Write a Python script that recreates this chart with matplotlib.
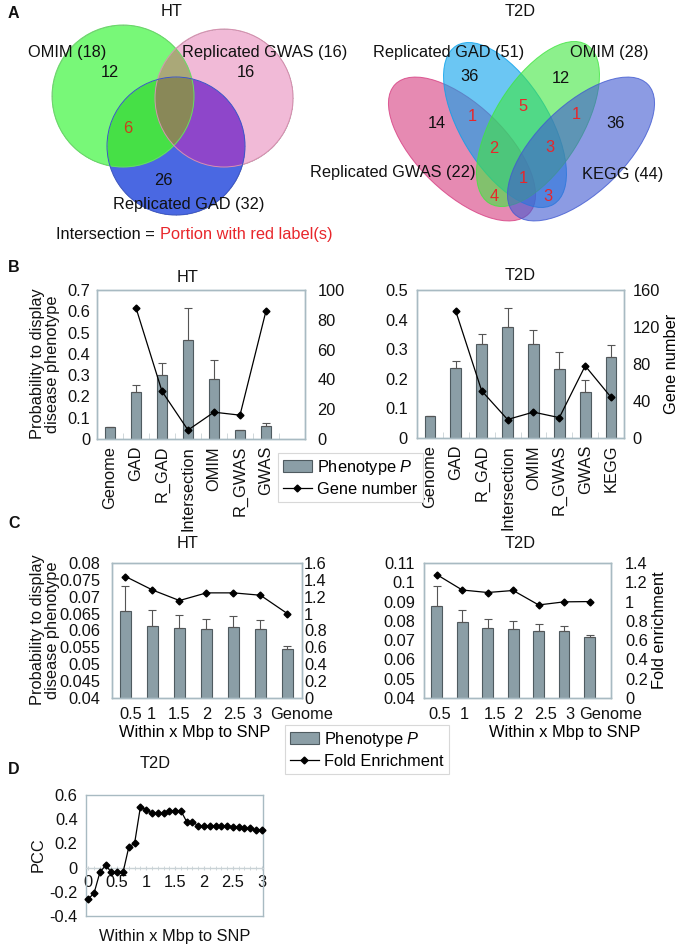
import numpy as np
import matplotlib.pyplot as plt
from matplotlib.patches import Ellipse, Circle, Patch
from matplotlib.lines import Line2D
from matplotlib.colors import to_rgba
from matplotlib.ticker import FuncFormatter, MultipleLocator, FixedLocator

plt.rcParams['font.family'] = ['Liberation Sans', 'DejaVu Sans']
plt.rcParams['font.size'] = 11.8
plt.rcParams['mathtext.fontset'] = 'custom'
plt.rcParams['mathtext.it'] = 'Liberation Sans:italic'
plt.rcParams['mathtext.rm'] = 'Liberation Sans'

# ---- data ----
# panel B
b_ht_cats = ['Genome', 'GAD', 'R_GAD', 'Intersection', 'OMIM', 'R_GWAS', 'GWAS']
b_ht_prob = [0.055, 0.22, 0.302, 0.463, 0.282, 0.042, 0.062]
b_ht_err = [0.0, 0.032, 0.054, 0.152, 0.09, 0.0, 0.014]
b_ht_genes = [np.nan, 88, 32, 6, 18, 16, 86]

b_t2d_cats = ['Genome', 'GAD', 'R_GAD', 'Intersection', 'OMIM', 'R_GWAS', 'GWAS', 'KEGG']
b_t2d_prob = [0.073, 0.236, 0.318, 0.374, 0.316, 0.232, 0.157, 0.275]
b_t2d_err = [0.002, 0.023, 0.035, 0.066, 0.048, 0.059, 0.038, 0.04]
b_t2d_genes = [np.nan, 137, 51, 20, 28, 22, 78, 44]

# panel C
c_cats = ['0.5', '1', '1.5', '2', '2.5', '3', 'Genome']
c_ht_prob = [0.0658, 0.0613, 0.0606, 0.0603, 0.0611, 0.0603, 0.0544]
c_ht_err = [0.0075, 0.0047, 0.0039, 0.003, 0.0032, 0.0027, 0.001]
c_ht_fold = [1.44, 1.28, 1.155, 1.246, 1.246, 1.218, 1.0]
c_t2d_prob = [0.0877, 0.0796, 0.0761, 0.0758, 0.0747, 0.0745, 0.0718]
c_t2d_err = [0.0105, 0.0059, 0.0047, 0.0043, 0.0035, 0.0028, 0.0008]
c_t2d_fold = [1.28, 1.12, 1.094, 1.115, 0.965, 0.997, 1.0]

# panel D
d_dist = [0.0, 0.1, 0.2, 0.3, 0.4, 0.5, 0.6, 0.7, 0.8, 0.9, 1.0,
          1.1, 1.2, 1.3, 1.4, 1.5, 1.6, 1.7, 1.8, 1.9, 2.0,
          2.1, 2.2, 2.3, 2.4, 2.5, 2.6, 2.7, 2.8, 2.9, 3.0]
d_pcc = [-0.26, -0.21, -0.04, 0.02, -0.04, -0.04, -0.04, 0.17, 0.2, 0.5, 0.48,
         0.45, 0.45, 0.45, 0.47, 0.47, 0.47, 0.38, 0.38, 0.345, 0.345,
         0.345, 0.345, 0.345, 0.345, 0.335, 0.335, 0.325, 0.325, 0.31, 0.31]

BAR = '#8b9ea6'
BAR_EDGE = '#4f5b60'
SPINE = '#a8bac2'
TICKC = '#c9d2d6'
TXT = '#111111'
RED = '#e8262b'

W, H = 685, 949
fig = plt.figure(figsize=(W / 100, H / 100), dpi=100)


def box(x0, y0, x1, y1):
    return [x0 / W, 1 - y1 / H, (x1 - x0) / W, (y1 - y0) / H]


fmt = FuncFormatter(lambda v, p: '%g' % round(v, 4))


def style(ax):
    for s in ax.spines.values():
        s.set_color(SPINE)
        s.set_linewidth(1.0)


def bar_panel(rect, cats, prob, err, line, ylim, ystep, y2lim, y2step,
              xlim, rot, lpad, rpad, label_pos=None, marks=True):
    ax = fig.add_axes(rect)
    x = np.arange(len(cats))
    ax.bar(x, prob, width=0.42, color=BAR, edgecolor=BAR_EDGE, lw=0.8, zorder=2)
    ax.errorbar(x, prob, yerr=[np.zeros(len(x)), err], fmt='none', ecolor='#555555',
                elinewidth=0.8, capsize=3, capthick=0.8, zorder=3)
    ax.set_xlim(*xlim)
    ax.set_ylim(*ylim)
    ax.yaxis.set_major_locator(MultipleLocator(ystep))
    ax.yaxis.set_major_formatter(fmt)
    ax.set_xticks(x if label_pos is None else label_pos)
    ax.set_xticklabels(cats, rotation=rot)
    if marks:
        ax.xaxis.set_minor_locator(FixedLocator(np.arange(xlim[0], xlim[1] + 0.01, 1.0)))
    ax.tick_params(axis='x', which='major', length=0, pad=5 if rot else 6.5, colors=TXT)
    ax.tick_params(axis='x', which='minor', length=4, direction='in', color=TICKC)
    ax.tick_params(axis='y', length=0, pad=lpad, colors=TXT)
    style(ax)
    ax2 = ax.twinx()
    ax2.plot(x, line, color='black', lw=0.9, marker='D', ms=3.5, zorder=4)
    ax2.set_ylim(*y2lim)
    ax2.yaxis.set_major_locator(MultipleLocator(y2step))
    ax2.yaxis.set_major_formatter(fmt)
    ax2.tick_params(axis='y', length=0, pad=rpad, colors=TXT)
    style(ax2)
    return ax, ax2


# ---- panel B ----
axb1, axb1r = bar_panel(box(97, 290, 305, 439), b_ht_cats, b_ht_prob, b_ht_err, b_ht_genes,
                        (0, 0.7), 0.1, (0, 100), 20, (-0.5, 7.5), 90, 5, 9)
axb2, axb2r = bar_panel(box(417, 290, 624, 438), b_t2d_cats, b_t2d_prob, b_t2d_err, b_t2d_genes,
                        (0, 0.5), 0.1, (0, 160), 40, (-0.5, 7.5), 90, 6.5, 6)
axb2r.set_ylabel('Gene number', labelpad=3)

# ---- panel C ----
axc1, axc1r = bar_panel(box(112, 563, 302, 698), c_cats, c_ht_prob, c_ht_err, c_ht_fold,
                        (0.04, 0.08), 0.005, (0, 1.6), 0.2, (-0.5, 6.5), 0, 8.5, 1.5,
                        label_pos=[0.2, 0.97, 2.0, 3.0, 4.03, 4.88, 6.54], marks=False)
axc2, axc2r = bar_panel(box(424, 563, 611, 698), c_cats, c_t2d_prob, c_t2d_err, c_t2d_fold,
                        (0.04, 0.11), 0.01, (0, 1.4), 0.2, (-0.5, 6.5), 0, 6.5, 10,
                        label_pos=[0.1, 1.07, 2.27, 3.17, 4.29, 5.23, 6.84], marks=False)
axc1.set_xlabel('Within x Mbp to SNP')
axc2.set_xlabel('Within x Mbp to SNP')
axc1.xaxis.set_label_coords(0.437, -0.2)
axc2.xaxis.set_label_coords(0.75, -0.2)
axc2r.set_ylabel('Fold enrichment', labelpad=3)

# ---- panel D ----
axd = fig.add_axes(box(86, 795, 263, 916))
axd.plot(d_dist, d_pcc, color='black', lw=0.9, marker='D', ms=3.5, clip_on=False, zorder=4)
axd.set_xlim(-0.04, 3.02)
axd.set_ylim(-0.4, 0.6)
axd.yaxis.set_major_locator(MultipleLocator(0.2))
axd.yaxis.set_major_formatter(fmt)
axd.xaxis.set_major_locator(MultipleLocator(0.5))
axd.xaxis.set_minor_locator(MultipleLocator(0.1))
axd.xaxis.set_major_formatter(fmt)
style(axd)
axd.spines['bottom'].set_position(('data', 0))
axd.spines['bottom'].set_color(TICKC)
axd.axhline(-0.4, color=SPINE, lw=1.0, clip_on=False)
axd.tick_params(axis='x', which='both', length=3, direction='inout', color=TICKC, pad=4, colors=TXT)
axd.tick_params(axis='x', which='both', color=TICKC)
axd.tick_params(axis='y', length=0, pad=6, colors=TXT)

# ---- overlay in pixel coordinates ----
ov = fig.add_axes([0, 0, 1, 1])
ov.set_xlim(0, W)
ov.set_ylim(H, 0)
ov.axis('off')

# HT venn (three circles, region colours)
gx = np.arange(45, 305, 0.5)
gy = np.arange(18, 222, 0.5)
X, Y = np.meshgrid(gx, gy)
inG = (X - 123) ** 2 + (Y - 96) ** 2 <= 71 ** 2
inP = (X - 224) ** 2 + (Y - 98) ** 2 <= 69 ** 2
inB = (X - 176) ** 2 + (Y - 146) ** 2 <= 69 ** 2
region_cols = {
    (1, 0, 0): '#78f878', (0, 1, 0): '#f2bad8', (0, 0, 1): '#4a68e2',
    (1, 0, 1): '#46e046', (0, 1, 1): '#8e46ca', (1, 1, 0): '#aaa878',
    (1, 1, 1): '#8a8858',
}
img = np.zeros(X.shape + (4,))
for key, c in region_cols.items():
    m = (inG == bool(key[0])) & (inP == bool(key[1])) & (inB == bool(key[2]))
    img[m] = to_rgba(c)
ov.imshow(img, extent=(gx[0], gx[-1], gy[-1], gy[0]), origin='upper',
          interpolation='antialiased', aspect='auto')
for (cx, cy, r, ec) in [(123, 96, 71, '#66dd66'), (224, 98, 69, '#d890b0'), (176, 146, 69, '#3a56c8')]:
    ov.add_patch(Circle((cx, cy), r, fill=False, ec=ec, lw=0.7))
ov.set_xlim(0, W)
ov.set_ylim(H, 0)

# T2D venn (four ellipses)
for (cx, cy, ang, fc) in [(462, 149, 44, '#d63c80'), (505, 125, 58.4, '#08a1eb'),
                          (538, 124, 121.6, '#40e640'), (581, 149, 136, '#4059d1')]:
    ov.add_patch(Ellipse((cx, cy), 186, 88, angle=ang, fc=fc, alpha=0.6, ec='none'))
    ov.add_patch(Ellipse((cx, cy), 186, 88, angle=ang, fill=False, ec=fc, lw=0.7, alpha=0.8))


def t(x, y, s, c=TXT, **kw):
    ov.text(x, y, s, color=c, ha=kw.pop('ha', 'center'), va=kw.pop('va', 'center'), **kw)


# panel letters
for (lab, y) in [('A', 13), ('B', 267), ('C', 523), ('D', 770)]:
    t(8, y, lab, fontweight='bold', ha='left', fontsize=11.5)

# venn texts HT
t(172, 11, 'HT')
t(67, 52, 'OMIM (18)')
t(110, 72, '12')
t(182, 52, 'Replicated GWAS (16)', ha='left')
t(246, 72, '16')
t(128, 128, '6', c='#c8401a')
t(163, 180, '26')
t(189, 204, 'Replicated GAD (32)')
t(155, 234, 'Intersection =', ha='right')
t(160, 234, 'Portion with red label(s)', c=RED, ha='left')

# venn texts T2D
t(520, 11, 'T2D')
t(449, 52, 'Replicated GAD (51)')
t(609, 52, 'OMIM (28)')
t(470, 76, '36')
t(561, 78, '12')
t(437, 123, '14')
t(616, 123, '36')
t(623, 174, 'KEGG (44)')
t(476, 172, 'Replicated GWAS (22)', ha='right')
for (x, y, s) in [(472, 116, '1'), (523, 106, '5'), (576, 114, '1'), (494, 148, '2'),
                  (550, 147, '3'), (523, 178, '1'), (494, 196, '4'), (548, 196, '3')]:
    t(x, y, s, c=RED)

# chart titles
t(188, 277, 'HT')
t(520, 275, 'T2D')
t(188, 543, 'HT')
t(520, 543, 'T2D')
t(155, 763, 'T2D')

# y labels
ylab = 'Probability to display\ndisease phenotype'
t(45, 364, ylab, rotation=90, linespacing=0.95)
t(45, 630, ylab, rotation=90, linespacing=0.95)
t(38, 855, 'PCC', rotation=90)
t(175, 937, 'Within x Mbp to SNP')

# legends
h_bar = Patch(facecolor=BAR, edgecolor=BAR_EDGE, lw=0.8)
h_line = Line2D([], [], color='black', lw=0.9, marker='D', ms=3.5)
leg_kw = dict(loc='upper left', borderaxespad=0, fancybox=False, edgecolor='#d8d8d8',
              handlelength=1.75, handleheight=0.8, handletextpad=0.35, labelspacing=0.3,
              borderpad=0.3, framealpha=1)
lb = fig.legend([h_bar, h_line], ['Phenotype $\\it{P}$', 'Gene number'],
                bbox_to_anchor=(278 / W, 1 - 453 / H), **leg_kw)
lb.get_frame().set_linewidth(0.8)
lc = fig.legend([h_bar, h_line], ['Phenotype $\\it{P}$', 'Fold Enrichment'],
                bbox_to_anchor=(285 / W, 1 - 725 / H), **leg_kw)
lc.get_frame().set_linewidth(0.8)

fig.savefig('out.png', dpi=100)
